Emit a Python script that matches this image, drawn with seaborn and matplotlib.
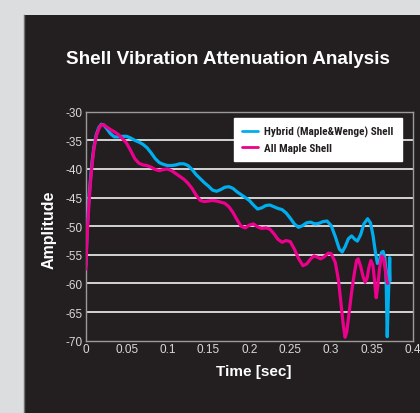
import matplotlib
matplotlib.use("Agg")
import matplotlib.pyplot as plt
import seaborn as sns
import pandas as pd
from matplotlib.lines import Line2D

# ---------------- data ----------------
hybrid_t = [0.000, 0.002, 0.004, 0.006, 0.008, 0.010, 0.013, 0.016, 0.019, 0.022,
            0.026, 0.030, 0.035, 0.040, 0.045, 0.050, 0.055, 0.060, 0.065, 0.070,
            0.075, 0.080, 0.085, 0.090, 0.095, 0.100, 0.105, 0.110, 0.115, 0.120,
            0.125, 0.130, 0.135, 0.140, 0.145, 0.150, 0.155, 0.160, 0.165, 0.170,
            0.175, 0.180, 0.185, 0.190, 0.195, 0.200, 0.205, 0.210, 0.215, 0.220,
            0.225, 0.230, 0.235, 0.240, 0.245, 0.250, 0.255, 0.260, 0.265, 0.270,
            0.275, 0.280, 0.285, 0.290, 0.295, 0.300, 0.305, 0.310, 0.3135, 0.317,
            0.321, 0.325, 0.329, 0.332, 0.336, 0.340, 0.3445, 0.348, 0.351, 0.354,
            0.3565, 0.359, 0.3615, 0.3635, 0.3655, 0.367, 0.3685, 0.370, 0.3715, 0.372]
hybrid_amp = [-57.0, -50.0, -45.0, -41.5, -38.5, -36.2, -34.0, -32.8, -32.2, -32.3,
              -33.0, -33.8, -34.4, -34.4, -34.3, -34.3, -34.6, -35.0, -35.3, -35.7,
              -36.3, -37.2, -38.2, -38.9, -39.2, -39.4, -39.4, -39.3, -39.1, -39.1,
              -39.4, -40.1, -41.0, -41.7, -42.4, -43.0, -43.7, -43.9, -43.6, -43.2,
              -43.1, -43.4, -44.0, -44.5, -45.0, -45.5, -46.3, -47.0, -46.8, -46.4,
              -46.3, -46.6, -46.9, -47.1, -47.7, -48.6, -49.6, -50.2, -49.9, -49.4,
              -49.3, -49.6, -49.5, -49.2, -49.1, -49.9, -51.8, -54.0, -54.5, -53.6,
              -52.2, -51.7, -52.3, -52.6, -51.5, -49.6, -48.7, -49.4, -51.5, -54.5,
              -56.5, -56.0, -54.6, -54.4, -55.5, -58.0, -69.3, -62.0, -55.5, -59.5]

maple_t = [0.000, 0.002, 0.004, 0.006, 0.008, 0.010, 0.013, 0.016, 0.019, 0.022,
           0.026, 0.030, 0.035, 0.040, 0.045, 0.050, 0.055, 0.060, 0.065, 0.070,
           0.075, 0.080, 0.085, 0.090, 0.095, 0.100, 0.105, 0.110, 0.115, 0.120,
           0.125, 0.130, 0.135, 0.140, 0.145, 0.150, 0.155, 0.160, 0.165, 0.170,
           0.175, 0.180, 0.185, 0.190, 0.195, 0.200, 0.205, 0.210, 0.215, 0.220,
           0.225, 0.230, 0.235, 0.240, 0.245, 0.250, 0.255, 0.260, 0.2655, 0.270,
           0.275, 0.279, 0.283, 0.287, 0.291, 0.2965, 0.300, 0.305, 0.309, 0.312,
           0.315, 0.317, 0.319, 0.322, 0.325, 0.328, 0.331, 0.333, 0.336, 0.339,
           0.3415, 0.344, 0.346, 0.3485, 0.351, 0.353, 0.355, 0.357, 0.359, 0.3605,
           0.362, 0.364, 0.366, 0.368, 0.369]
maple_amp = [-57.5, -51.0, -46.0, -42.0, -39.0, -36.5, -34.2, -33.0, -32.3, -32.3,
             -32.7, -33.1, -33.5, -34.0, -34.7, -35.5, -36.8, -38.2, -39.0, -39.3,
             -39.4, -39.7, -40.1, -40.3, -40.1, -40.0, -40.3, -40.8, -41.3, -41.8,
             -42.5, -43.4, -44.6, -45.5, -45.7, -45.6, -45.5, -45.6, -45.8, -46.0,
             -46.6, -47.6, -48.9, -50.0, -50.3, -49.8, -49.6, -50.1, -50.4, -50.3,
             -50.5, -51.3, -52.3, -52.8, -52.5, -52.7, -54.0, -55.6, -56.9, -56.6,
             -55.7, -55.2, -55.4, -55.7, -55.4, -54.7, -54.8, -56.3, -59.5, -63.5,
             -67.5, -69.4, -68.5, -65.0, -61.5, -58.5, -56.0, -55.7, -57.0, -58.8,
             -59.8, -59.0, -57.3, -56.0, -56.8, -59.5, -62.5, -60.5, -57.5, -56.0,
             -55.2, -55.6, -57.5, -59.5, -60.0]

series_names = ["Hybrid (Maple&Wenge) Shell", "All Maple Shell"]
series_colors = ["#00aeef", "#ec008c"]
x_ticks = [0, 0.05, 0.1, 0.15, 0.2, 0.25, 0.3, 0.35, 0.4]
x_tick_labels = ["0", "0.05", "0.1", "0.15", "0.2", "0.25", "0.3", "0.35", "0.4"]
y_ticks = [-70, -65, -60, -55, -50, -45, -40, -35, -30]

title = "Shell Vibration Attenuation Analysis"
x_label = "Time [sec]"
y_label = "Amplitude"

# ---------------- build frame ----------------
df = pd.concat([
    pd.DataFrame({"t": hybrid_t, "amp": hybrid_amp, "series": series_names[0]}),
    pd.DataFrame({"t": maple_t, "amp": maple_amp, "series": series_names[1]}),
], ignore_index=True)

sns.set_theme(style="white")
plt.rcParams["font.family"] = ["Liberation Sans", "DejaVu Sans"]

BG = "#dcdddf"
PANEL = "#231f20"
W, H = 420, 414
fig = plt.figure(figsize=(W / 100, H / 100), dpi=100, facecolor=BG)

# dark panel as a background axes
pax = fig.add_axes([23.5 / W, 0, 1 - 23.5 / W, 1 - 16 / H], zorder=-5)
pax.set_facecolor(PANEL)
pax.set_xticks([])
pax.set_yticks([])
for s in pax.spines.values():
    s.set_visible(False)
pax.spines["left"].set_visible(True)
pax.spines["left"].set_color("#707070")
pax.spines["left"].set_linewidth(1.0)

ax = fig.add_axes([85.7 / W, 1 - 341.7 / H, (413 - 85.7) / W, (341.7 - 112.7) / H])
ax.set_facecolor(PANEL)

for y in y_ticks[1:-1]:
    ax.axhline(y, color="#f2f2f2", lw=1.2, zorder=1)

sns.lineplot(data=df, x="t", y="amp", hue="series", hue_order=series_names,
             palette=series_colors, sort=False, estimator=None, lw=2.3, ax=ax,
             legend=False, zorder=3)

ax.set_xlim(0, 0.4)
ax.set_ylim(-70, -30)
ax.set_xticks(x_ticks)
ax.set_xticklabels(x_tick_labels)
ax.set_yticks(y_ticks)
ax.set_yticklabels([str(v) for v in y_ticks])
ax.tick_params(direction="in", length=3, width=0.8, color="#a0a0a0",
               labelcolor="#d8d8d8", labelsize=8.5, pad=2)
for s in ax.spines.values():
    s.set_color("#9a9a9a")
    s.set_linewidth(1.0)
    s.set_visible(True)
ax.set_xlabel("")
ax.set_ylabel("")

fig.text(227.5 / W, 1 - 60 / H, title, color="white", fontsize=13.6, fontweight="bold",
         ha="center", va="center")
fig.text(253.5 / W, 1 - 372 / H, x_label, color="white", fontsize=11,
         fontweight="bold", ha="center", va="center")
fig.text(49 / W, 1 - 230 / H, y_label, color="white", fontsize=11.5,
         fontweight="bold", ha="center", va="center", rotation=90)

handles = [Line2D([0], [0], color=c, lw=2) for c in series_colors]
leg = ax.legend(handles, series_names, loc="upper right",
                bbox_to_anchor=(1 - 8 / (413 - 85.7), 1 - 2.5 / (341.7 - 112.7)),
                frameon=True, fancybox=False, framealpha=1, facecolor="white",
                edgecolor="white", handlelength=1.4, handletextpad=0.5,
                borderpad=0.75, labelspacing=0.5, borderaxespad=0.3,
                prop={"family": ["Roboto Condensed", "Roboto", "DejaVu Sans"],
                      "weight": "bold", "size": 8.1})
for t in leg.get_texts():
    t.set_color("#231f20")
leg.set_zorder(5)

fig.savefig("out.png", dpi=100, facecolor=BG)
